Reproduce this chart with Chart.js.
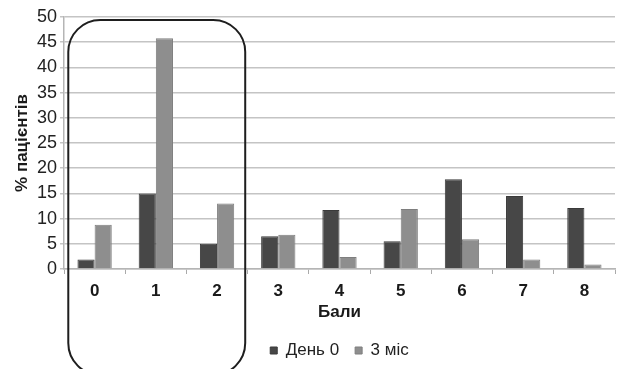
<!DOCTYPE html>
<html>
<head>
<meta charset="utf-8">
<script src="https://cdn.jsdelivr.net/npm/chart.js@4"></script>
<style>
  html, body { margin: 0; padding: 0; background: #fff; }
  #wrap { width: 618px; height: 369px; }
</style>
</head>
<body>
<div id="wrap"><canvas id="chart" width="618" height="369"></canvas></div>
<script>
// chart data
const categories = ["0", "1", "2", "3", "4", "5", "6", "7", "8"];
const day0 = [1.9, 15, 5, 6.5, 11.7, 5.5, 17.8, 14.5, 12.1];
const month3 = [8.8, 45.8, 13, 6.8, 2.4, 11.9, 5.9, 1.9, 0.9];
const seriesLabels = ["День 0", "3 міс"];
const yTicks = [0, 5, 10, 15, 20, 25, 30, 35, 40, 45, 50];

const FONT = "'Liberation Sans', Arial, sans-serif";

// rounded frame around scores 0-2
const framePlugin = {
  id: "frame",
  afterDraw(chart) {
    const ctx = chart.ctx;
    const x = chart.scales.x, y = chart.scales.y;
    const catW = x.getPixelForValue(1) - x.getPixelForValue(0);
    const left = x.getPixelForValue(0) - 0.43 * catW;
    const right = x.getPixelForValue(2) + 0.46 * catW;
    const top = y.getPixelForValue(49.4);
    const bottom = chart.height + 6;
    const r = 32;
    ctx.save();
    ctx.strokeStyle = "#1e1e1e";
    ctx.lineWidth = 2;
    ctx.beginPath();
    ctx.roundRect(left, top, right - left, bottom - top, r);
    ctx.stroke();
    ctx.restore();
  }
};

new Chart(document.getElementById("chart"), {
  type: "bar",
  data: {
    labels: categories,
    datasets: [
      {
        label: seriesLabels[0],
        data: day0,
        backgroundColor: "#474747",
        borderColor: "#3a3a3a",
        borderWidth: 1,
        categoryPercentage: 0.56,
        barPercentage: 1.0
      },
      {
        label: seriesLabels[1],
        data: month3,
        backgroundColor: "#8e8e8e",
        borderColor: "#7e7e7e",
        borderWidth: 1,
        categoryPercentage: 0.56,
        barPercentage: 1.0
      }
    ]
  },
  options: {
    responsive: false,
    animation: false,
    layout: { padding: { top: 17, right: 3, left: 0, bottom: 0 } },
    plugins: {
      tooltip: { enabled: false },
      legend: {
        position: "bottom",
        fullSize: false,
        labels: {
          color: "#222",
          font: { family: FONT, size: 17 },
          boxWidth: 7,
          boxHeight: 7,
          padding: 16
        }
      }
    },
    scales: {
      x: {
        afterFit: s => { s.height = 57; },
        grid: {
          drawOnChartArea: false,
          drawTicks: true,
          tickLength: 5,
          color: "#aaa"
        },
        border: { color: "#b5b5b5", width: 1.5 },
        ticks: {
          color: "#1a1a1a",
          padding: 7,
          font: { family: FONT, size: 17, weight: "bold" }
        },
        title: {
          display: true,
          text: "Бали",
          color: "#1a1a1a",
          font: { family: FONT, size: 17, weight: "bold" },
          padding: { top: 0, bottom: 3 }
        }
      },
      y: {
        min: 0,
        max: 50,
        afterFit: s => { s.width = 64; },
        afterBuildTicks: s => { s.ticks = yTicks.map(v => ({ value: v })); },
        grid: {
          color: "#c4c4c4",
          lineWidth: 1.5,
          tickLength: 4
        },
        border: { color: "#b5b5b5", width: 1.5 },
        ticks: {
          color: "#222",
          padding: 3,
          font: { family: FONT, size: 18 }
        },
        title: {
          display: true,
          text: "% пацієнтів",
          color: "#1a1a1a",
          font: { family: FONT, size: 17, weight: "bold" },
          padding: { top: 12, bottom: 0 }
        }
      }
    }
  },
  plugins: [framePlugin]
});
</script>
</body>
</html>
